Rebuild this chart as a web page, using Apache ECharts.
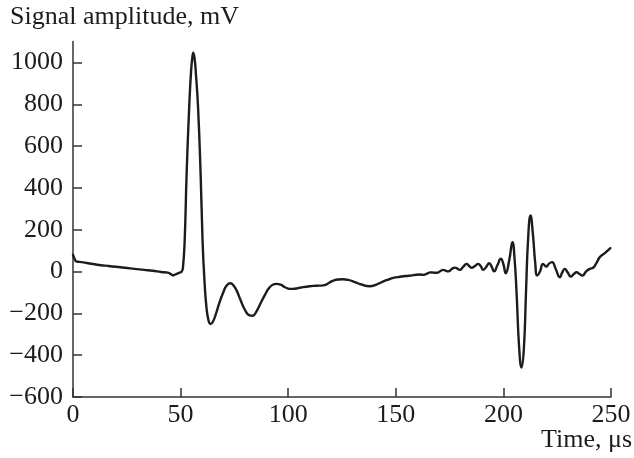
<!DOCTYPE html>
<html>
<head>
<meta charset="utf-8">
<script src="https://cdn.jsdelivr.net/npm/echarts@6/dist/echarts.min.js"></script>
<style>html,body{margin:0;padding:0;background:#fff}#c{width:634px;height:458px}</style>
</head>
<body>
<div id="c"></div>
<script>
const timeUs = [0,0.8,1.5,4,7,10,13,16.3,20,24,28.6,33,37,41,44.1,45.5,46.4,47.5,49.5,50.5,51.1,51.9,52.8,54.0,54.8,55.4,55.9,56.5,57.1,58.1,59.3,60.2,61,62,63,63.9,65,66.5,68,70,71.5,73.2,74.5,76,78,80,81.8,83.5,85,87,89,91,92.8,94.6,96.5,98.5,100.8,103,106,110,113,116.3,118,119.4,121,123.2,125.5,127.9,131,134,137.9,141,144,146.5,148.8,152,156,161.2,163,164.5,166,167.5,169,171,172,173.2,174.4,176,177.4,178.6,179.7,181.3,182.9,184,185.2,186.7,188.3,189.5,190.6,192,193.4,194.6,195.7,197.2,198.8,200,201.1,202.8,204.2,205.2,206.2,207.3,208.4,209.5,210.5,211.5,212.6,213.7,214.8,215.7,217,218.4,219.9,221.2,222.6,224.4,226.2,227.3,228.5,229.9,231.3,232.7,234,235.4,236.7,238.4,240.1,241.7,243.2,244.8,247.1,249.7];
const amplitudeMv = [80,60,49,45,40,35,30,27,23,18,13,8,4,-2,-5,-12,-18,-14,-5,0,20,149,468,788,948,1020,1047,1020,948,788,468,149,-27,-170,-235,-251,-240,-200,-150,-95,-65,-56,-65,-90,-140,-185,-208,-211,-195,-155,-115,-80,-63,-59,-63,-75,-83,-82,-76,-70,-68,-66,-60,-51,-43,-38,-37,-40,-50,-62,-70,-62,-48,-38,-30,-25,-20,-14,-16,-10,-4,-5,-6,4,8,4,1,12,19,14,8,22,37,28,18,26,37,25,8,22,40,22,1,30,61,35,-8,60,141,60,-120,-360,-459,-370,-100,160,269,180,40,-19,0,37,24,38,45,10,-27,-5,13,-5,-24,-12,-3,-12,-19,0,13,18,40,69,88,112];
const yTicks = [-600,-400,-200,0,200,400,600,800,1000];
const xTicks = [0,50,100,150,200,250];
const yTitle = 'Signal amplitude, mV';
const xTitle = 'Time, μs';

const font = 'Liberation Serif';
const ink = '#1c1c1c';
const chart = echarts.init(document.getElementById('c'), null, {renderer: 'canvas'});
chart.setOption({
  animation: false,
  backgroundColor: '#fff',
  title: [
    {text: yTitle, left: 10, top: 4, padding: 0, textStyle: {fontFamily: font, fontSize: 26, fontWeight: 'normal', color: ink}},
    {text: xTitle, right: 2, top: 427, padding: 0, textStyle: {fontFamily: font, fontSize: 26, fontWeight: 'normal', color: ink}}
  ],
  grid: {left: 73, right: 23, top: 41.6, bottom: 61, containLabel: false},
  xAxis: {
    type: 'value', min: 0, max: 250, interval: 50,
    axisLine: {show: true, onZero: false, lineStyle: {color: '#333', width: 1.5}},
    axisTick: {show: true, inside: true, length: 9, lineStyle: {color: '#333', width: 1.5}, customValues: xTicks},
    axisLabel: {fontFamily: font, fontSize: 26, color: ink, margin: 5, customValues: xTicks},
    splitLine: {show: false}
  },
  yAxis: {
    type: 'value', min: -600, max: 1100, interval: 100,
    axisLine: {show: true, onZero: false, lineStyle: {color: '#333', width: 1.5}},
    axisTick: {show: true, inside: true, length: 9, lineStyle: {color: '#333', width: 1.5}, customValues: yTicks},
    axisLabel: {fontFamily: font, fontSize: 26, color: ink, margin: 10, customValues: yTicks,
      formatter: v => String(v).replace('-', '\u2212')},
    splitLine: {show: false}
  },
  series: [{
    type: 'line',
    data: timeUs.map((t, i) => [t, amplitudeMv[i]]),
    showSymbol: false,
    smooth: 0.5,
    lineStyle: {color: ink, width: 2.4, join: 'round', cap: 'round'}
  }]
});
</script>
</body>
</html>
